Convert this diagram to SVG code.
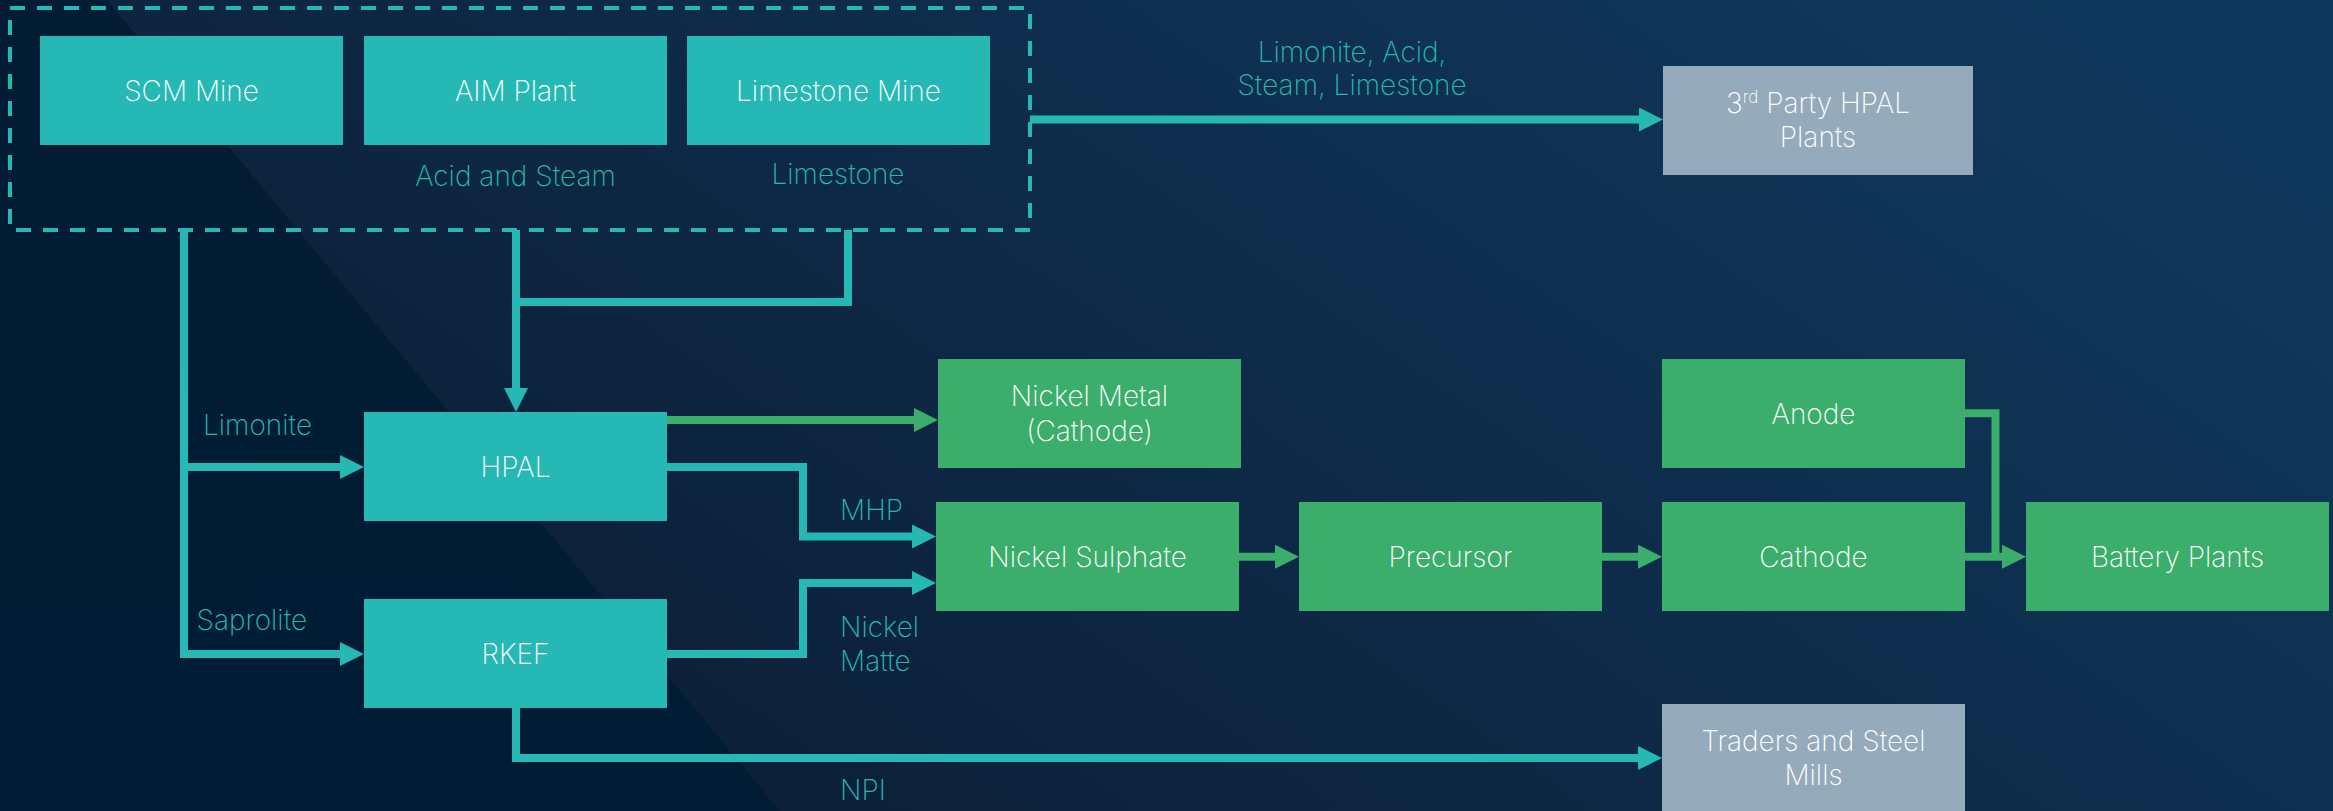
<svg xmlns="http://www.w3.org/2000/svg" width="2333" height="811" viewBox="0 0 2333 811">
  <defs>
    <linearGradient id="bg" x1="0" y1="0.75" x2="1" y2="0.25">
      <stop offset="0" stop-color="#0D1A31"/>
      <stop offset="0.35" stop-color="#0D2540"/>
      <stop offset="1" stop-color="#10385C"/>
    </linearGradient>
    <linearGradient id="dark" x1="0" y1="0" x2="0" y2="1">
      <stop offset="0" stop-color="#021C33"/>
      <stop offset="1" stop-color="#001D35"/>
    </linearGradient>
    <marker id="aT" markerUnits="userSpaceOnUse" markerWidth="24" markerHeight="24" viewBox="0 0 24 24" refX="0" refY="12" orient="auto">
      <path d="M0,0 L24,12 L0,24 z" fill="#26B8B5"/>
    </marker>
    <marker id="aG" markerUnits="userSpaceOnUse" markerWidth="24" markerHeight="24" viewBox="0 0 24 24" refX="0" refY="12" orient="auto">
      <path d="M0,0 L24,12 L0,24 z" fill="#3AAE6A"/>
    </marker>
    <style>
      .teal { fill: #26B8B5; }
      .green { fill: #3AAE6A; }
      .grey { fill: #95AABB; }
      .t { font-family: Inter, "Liberation Sans", sans-serif; font-size: 28px; font-weight: 200; fill: #FFFFFF; text-anchor: middle; }
      .lbl { font-family: Inter, "Liberation Sans", sans-serif; font-size: 28px; font-weight: 200; fill: #26B8B5; }
      .mid { text-anchor: middle; }
      .cT { fill: none; stroke: #26B8B5; stroke-width: 8; stroke-linejoin: miter; }
      .cG { fill: none; stroke: #3AAE6A; stroke-width: 8; stroke-linejoin: miter; }
      .dash { fill: none; stroke: #26B8B5; stroke-width: 4; stroke-dasharray: 15 12; }
    </style>
  </defs>

  <rect x="0" y="0" width="2333" height="811" fill="url(#bg)"/>
  <polygon points="0,0 107,0 780,811 0,811" fill="url(#dark)"/>

  <g id="connectors">
    <path class="cT" d="M184,230 V467 H340" marker-end="url(#aT)"/>
    <path class="cT" d="M184,463 V654 H340" marker-end="url(#aT)"/>
    <path class="cT" d="M516,230 V388" marker-end="url(#aT)"/>
    <path class="cT" d="M848,230 V302 H512"/>
    <path class="cG" d="M667,420 H914" marker-end="url(#aG)"/>
    <path class="cT" d="M667,467 H803 V536.5 H912" marker-end="url(#aT)"/>
    <path class="cT" d="M667,654 H803 V583 H912" marker-end="url(#aT)"/>
    <path class="cT" d="M516,708 V758 H1638" marker-end="url(#aT)"/>
    <path class="cT" d="M1030,119.5 H1639" marker-end="url(#aT)"/>
    <path class="cG" d="M1239,556.7 H1275" marker-end="url(#aG)"/>
    <path class="cG" d="M1602,556.7 H1638" marker-end="url(#aG)"/>
    <path class="cG" d="M1965,556.7 H2002" marker-end="url(#aG)"/>
    <path class="cG" d="M1965,413.3 H1995.5 V556.7"/>
  </g>

  <g id="group-box">
    <rect class="dash" x="10" y="8" width="1020" height="222"/>
  </g>

  <g id="scm-mine">
    <rect class="teal" x="40" y="36" width="303" height="109"/>
    <text class="t" x="191.5" y="100.5">SCM Mine</text>
  </g>
  <g id="aim-plant">
    <rect class="teal" x="364" y="36" width="303" height="109"/>
    <text class="t" x="515.5" y="100.5">AIM Plant</text>
  </g>
  <g id="limestone-mine">
    <rect class="teal" x="687" y="36" width="303" height="109"/>
    <text class="t" x="838.5" y="100.5">Limestone Mine</text>
  </g>
  <g id="third-party">
    <rect class="grey" x="1663" y="66" width="310" height="109"/>
    <text class="t" x="1818" y="112.5">3<tspan font-size="17" dy="-10">rd</tspan><tspan dy="10"> Party HPAL</tspan></text>
    <text class="t" x="1818" y="146.5">Plants</text>
  </g>
  <g id="hpal">
    <rect class="teal" x="364" y="412" width="303" height="109"/>
    <text class="t" x="515.5" y="476.5">HPAL</text>
  </g>
  <g id="rkef">
    <rect class="teal" x="364" y="599" width="303" height="109"/>
    <text class="t" x="515.5" y="663.5">RKEF</text>
  </g>
  <g id="nickel-metal">
    <rect class="green" x="938" y="359" width="303" height="109"/>
    <text class="t" x="1089.5" y="406">Nickel Metal</text>
    <text class="t" x="1089.5" y="441">(Cathode)</text>
  </g>
  <g id="nickel-sulphate">
    <rect class="green" x="936" y="502" width="303" height="109"/>
    <text class="t" x="1087.5" y="566.5">Nickel Sulphate</text>
  </g>
  <g id="precursor">
    <rect class="green" x="1299" y="502" width="303" height="109"/>
    <text class="t" x="1450.5" y="566.5">Precursor</text>
  </g>
  <g id="anode">
    <rect class="green" x="1662" y="359" width="303" height="109"/>
    <text class="t" x="1813.5" y="423.5">Anode</text>
  </g>
  <g id="cathode">
    <rect class="green" x="1662" y="502" width="303" height="109"/>
    <text class="t" x="1813.5" y="566.5">Cathode</text>
  </g>
  <g id="battery-plants">
    <rect class="green" x="2026" y="502" width="303" height="109"/>
    <text class="t" x="2177.5" y="566.5">Battery Plants</text>
  </g>
  <g id="traders">
    <rect class="grey" x="1662" y="704" width="303" height="110"/>
    <text class="t" x="1813.5" y="751">Traders and Steel</text>
    <text class="t" x="1813.5" y="785">Mills</text>
  </g>

  <g id="labels">
    <text class="lbl mid" x="515.5" y="185.5">Acid and Steam</text>
    <text class="lbl mid" x="838" y="183.5">Limestone</text>
    <text class="lbl mid" x="1352" y="62">Limonite, Acid,</text>
    <text class="lbl mid" x="1352" y="95">Steam, Limestone</text>
    <text class="lbl" x="203" y="435">Limonite</text>
    <text class="lbl" x="196.5" y="630">Saprolite</text>
    <text class="lbl" x="840" y="520">MHP</text>
    <text class="lbl" x="840" y="637">Nickel</text>
    <text class="lbl" x="840" y="670.5">Matte</text>
    <text class="lbl" x="840" y="799.5">NPI</text>
  </g>
</svg>
